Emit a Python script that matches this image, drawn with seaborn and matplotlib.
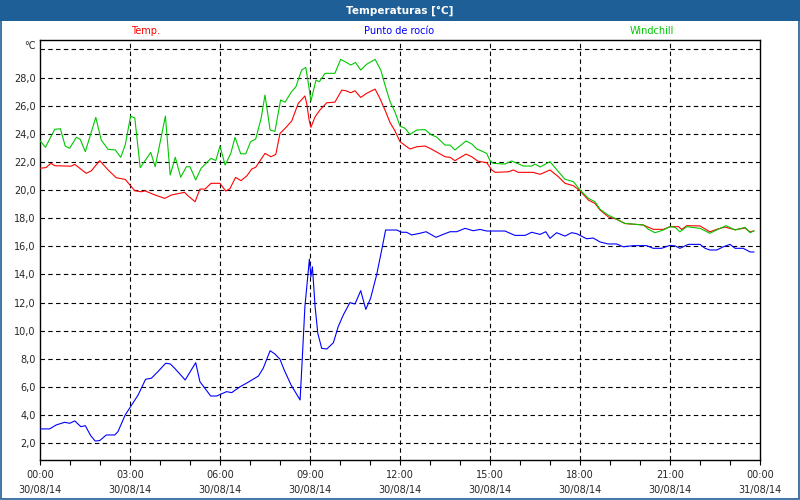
import matplotlib
matplotlib.use("Agg")
import matplotlib.pyplot as plt
from matplotlib.patches import Rectangle
from matplotlib.transforms import offset_copy
import seaborn as sns
import pandas as pd

# ---------------- data (hours since 30/08/14 00:00) ----------------
temp_h = [0.0, 0.2, 0.36, 0.5, 1.04, 1.16, 1.54, 1.71, 1.99, 2.27, 2.54, 2.84, 3.16, 3.38, 3.5, 3.77,
          4.16, 4.38, 4.82, 4.93, 5.17, 5.33, 5.5, 5.7, 6.0, 6.19, 6.33, 6.52, 6.7, 6.89, 7.06, 7.19,
          7.5, 7.7, 7.86, 8.0, 8.17, 8.39, 8.61, 8.83, 8.89, 8.97, 9.03, 9.17, 9.33, 9.56, 9.83, 10.06,
          10.2, 10.36, 10.5, 10.69, 10.89, 11.17, 11.33, 11.5, 11.67, 11.83, 12.0, 12.33, 12.56, 12.83,
          13.0, 13.5, 13.67, 13.83, 14.2, 14.39, 14.6, 14.89, 15.06, 15.17, 15.61, 15.78, 15.94, 16.44,
          16.67, 17.0, 17.28, 17.5, 17.78, 18.0, 18.28, 18.5, 18.67, 18.94, 19.22, 19.5, 20.11, 20.44,
          20.78, 21.0, 21.28, 21.39, 21.56, 22.0, 22.33, 22.56, 22.83, 23.17, 23.5, 23.67, 23.8]
temp_v = [21.55, 21.6, 21.9, 21.73, 21.7, 21.83, 21.19, 21.37, 22.09, 21.43, 20.88, 20.76, 19.95, 19.88, 19.95, 19.7,
          19.41, 19.65, 19.84, 19.6, 19.17, 20.07, 20.07, 20.48, 20.48, 19.93, 20.1, 20.9, 20.67, 21.0, 21.5, 21.62,
          22.61, 22.37, 22.54, 24.03, 24.39, 24.91, 26.17, 26.69, 26.17, 24.98, 24.46, 25.21, 25.69, 26.21, 26.25, 27.11,
          27.06, 26.92, 27.06, 26.59, 26.88, 27.18, 26.52, 25.69, 24.79, 24.22, 23.44, 22.92, 23.08, 23.13,
          22.97, 22.37, 22.33, 22.09, 22.56, 22.37, 22.05, 21.95, 21.43, 21.26, 21.3, 21.43, 21.26, 21.26,
          21.12, 21.43, 20.95, 20.48, 20.31, 19.95, 19.29, 19.05, 18.58, 18.1, 17.92, 17.62, 17.52, 17.21,
          17.21, 17.4, 17.4, 17.2, 17.47, 17.45, 17.03, 17.21, 17.37, 17.18, 17.3, 17.03, 17.1]

wind_h = [0.0, 0.18, 0.49, 0.68, 0.84, 0.99, 1.21, 1.34, 1.51, 1.86, 2.04, 2.27, 2.51, 2.69, 2.84, 3.02,
          3.16, 3.34, 3.69, 3.84, 4.18, 4.34, 4.51, 4.69, 4.88, 5.0, 5.19, 5.37, 5.7, 5.86, 6.0, 6.17,
          6.36, 6.5, 6.69, 6.86, 7.02, 7.19, 7.37, 7.5, 7.67, 7.83, 8.02, 8.17, 8.37, 8.53, 8.72, 8.86,
          8.97, 9.03, 9.2, 9.31, 9.5, 9.83, 10.02, 10.17, 10.36, 10.52, 10.69, 10.89, 11.17, 11.36, 11.5,
          11.67, 11.83, 12.0, 12.17, 12.33, 12.56, 12.83, 13.06, 13.22, 13.5, 13.67, 13.83, 14.2, 14.39,
          14.56, 14.72, 14.89, 15.0, 15.11, 15.5, 15.72, 16.11, 16.39, 16.5, 16.67, 17.0, 17.28, 17.5,
          17.78, 18.0, 18.28, 18.5, 18.67, 18.94, 19.22, 19.5, 20.11, 20.28, 20.5, 20.78, 21.0, 21.17,
          21.33, 21.56, 22.0, 22.33, 22.67, 22.87, 23.17, 23.5, 23.67, 23.8]
wind_v = [23.51, 23.04, 24.32, 24.36, 23.13, 22.97, 23.75, 23.61, 22.73, 25.17, 23.56, 22.9, 22.85, 22.33, 23.2, 25.26,
          25.12, 21.59, 22.68, 21.66, 25.26, 21.07, 22.33, 20.91, 21.66, 21.66, 20.72, 21.55, 22.26, 22.1, 23.13, 21.78,
          22.61, 23.75, 22.58, 22.58, 23.44, 23.63, 25.1, 26.76, 24.27, 24.17, 26.4, 26.25, 26.95, 27.35, 28.53, 28.72,
          27.23, 26.33, 27.82, 27.7, 28.3, 28.3, 29.29, 29.13, 28.89, 29.07, 28.53, 28.95, 29.29, 28.53, 27.47,
          26.28, 25.57, 24.55, 24.39, 23.96, 24.27, 24.3, 23.91, 23.77, 23.2, 23.2, 22.85, 23.49, 23.28,
          22.92, 22.78, 22.6, 22.09, 21.9, 21.85, 22.07, 21.71, 21.71, 21.85, 21.64, 22.02, 21.31, 20.77,
          20.6, 20.01, 19.41, 19.17, 18.63, 18.22, 17.94, 17.63, 17.52, 17.21, 16.97, 17.16, 17.4, 17.35,
          17.03, 17.4, 17.28, 16.93, 17.28, 17.47, 17.16, 17.35, 16.97, 17.1]

dew_h = [0.0, 0.32, 0.54, 0.82, 0.99, 1.16, 1.36, 1.51, 1.69, 1.84, 1.99, 2.21, 2.49, 2.6, 2.84, 3.27,
         3.52, 3.71, 3.93, 4.19, 4.34, 4.49, 4.84, 5.19, 5.33, 5.69, 5.89, 6.22, 6.39, 6.67, 6.94, 7.28,
         7.44, 7.67, 7.83, 8.0, 8.14, 8.37, 8.67, 8.74, 8.83, 8.98, 9.03, 9.08, 9.17, 9.26, 9.39, 9.56,
         9.78, 9.94, 10.11, 10.33, 10.5, 10.69, 10.86, 11.02, 11.22, 11.39, 11.52, 11.89, 12.06, 12.22,
         12.39, 12.67, 12.87, 13.2, 13.39, 13.67, 13.89, 14.17, 14.44, 14.67, 14.89, 15.5, 15.67, 15.83,
         16.17, 16.39, 16.67, 16.86, 17.0, 17.22, 17.5, 17.72, 17.89, 18.22, 18.44, 18.67, 18.94, 19.22,
         19.44, 19.78, 20.22, 20.44, 20.72, 21.0, 21.17, 21.33, 21.61, 22.0, 22.17, 22.33, 22.56, 22.78,
         23.0, 23.17, 23.44, 23.67, 23.8]
dew_v = [3.02, 3.02, 3.3, 3.49, 3.42, 3.59, 3.18, 3.25, 2.54, 2.16, 2.19, 2.59, 2.59, 2.83, 4.01, 5.43,
         6.55, 6.62, 7.09, 7.69, 7.64, 7.33, 6.5, 7.73, 6.38, 5.36, 5.36, 5.67, 5.6, 6.02, 6.34, 6.78,
         7.33, 8.58, 8.35, 7.97, 7.21, 6.14, 5.08, 7.92, 11.71, 15.1, 13.84, 14.55, 11.71, 9.82, 8.75, 8.7,
         9.15, 10.29, 11.12, 12.0, 11.9, 12.85, 11.52, 12.31, 13.96, 15.74, 17.16, 17.16, 17.0, 17.0,
         16.81, 16.93, 17.04, 16.64, 16.81, 17.04, 17.04, 17.28, 17.11, 17.2, 17.09, 17.09, 16.93, 16.78,
         16.78, 17.0, 16.85, 17.04, 16.57, 16.97, 16.73, 16.97, 16.9, 16.54, 16.59, 16.31, 16.17, 16.17,
         15.97, 16.05, 16.05, 15.86, 15.86, 16.07, 16.03, 15.86, 16.14, 16.14, 15.86, 15.74, 15.74, 15.97,
         16.14, 15.86, 15.86, 15.6, 15.6]

series_names = ["Temp.", "Punto de rocío", "Windchill"]
series_colors = ["#ff0000", "#0000ff", "#00c800"]
x_ticks = [0, 3, 6, 9, 12, 15, 18, 21, 24]
x_tick_labels = ["00:00\n30/08/14", "03:00\n30/08/14", "06:00\n30/08/14", "09:00\n30/08/14",
                 "12:00\n30/08/14", "15:00\n30/08/14", "18:00\n30/08/14", "21:00\n30/08/14",
                 "00:00\n31/08/14"]
y_ticks = [2, 4, 6, 8, 10, 12, 14, 16, 18, 20, 22, 24, 26, 28, 30]
y_tick_labels = ["2,0", "4,0", "6,0", "8,0", "10,0", "12,0", "14,0", "16,0", "18,0", "20,0",
                 "22,0", "24,0", "26,0", "28,0", ""]
unit_label = "°C"
title = "Temperaturas [°C]"

# ---------------- figure ----------------
sns.set_style("white")
plt.rcParams["font.family"] = ["DejaVu Sans"]

W, H = 800, 500
fig = plt.figure(figsize=(8, 5), dpi=100, facecolor="white")
ax = fig.add_axes([40 / W, 1 - 460 / H, 720 / W, 420 / H])
ax.set_facecolor("white")

bar_col = "#1f5f97"
fig.patches.append(Rectangle((0, 1 - 21 / H), 1, 21 / H, transform=fig.transFigure,
                             facecolor=bar_col, edgecolor="none", zorder=0))
fig.patches.append(Rectangle((0.6 / W, 0.6 / H), 1 - 1.2 / W, 1 - 1.2 / H, transform=fig.transFigure,
                             facecolor="none", edgecolor=bar_col, linewidth=1.2, zorder=5))
fig.text(0.5, 1 - 10.5 / H, title, color="white", fontsize=7.5, fontweight="bold",
         ha="center", va="center")

df_t = pd.DataFrame({"h": temp_h, "v": temp_v})
df_d = pd.DataFrame({"h": dew_h, "v": dew_v})
df_w = pd.DataFrame({"h": wind_h, "v": wind_v})
for df, col in zip([df_t, df_d, df_w], series_colors):
    sns.lineplot(data=df, x="h", y="v", ax=ax, color=col, linewidth=0.8, estimator=None,
                 zorder=3)

ax.set_xlim(0, 24)
ax.set_ylim(0.81, 30.67)
ax.set_xlabel("")
ax.set_ylabel("")

ax.set_xticks(x_ticks)
ax.set_xticklabels(x_tick_labels, fontsize=7, linespacing=1.6)
ax.set_xticks(range(0, 25), minor=True)
ax.tick_params(axis="x", which="both", direction="out", length=3.5, width=0.8,
               color="black", pad=3.5, bottom=True)
ax.set_yticks(y_ticks)
ax.set_yticklabels(y_tick_labels, fontsize=7)
ax.tick_params(axis="y", length=0, pad=3, left=True)

# unit label sits just above the top (30) gridline, at the tick-label column
unit_tr = offset_copy(ax.get_yaxis_transform(), fig=fig, x=-4, y=0, units="dots")
ax.text(0, 30.25, unit_label, transform=unit_tr, fontsize=7, ha="right", va="center")

grid_kw = dict(color="black", linewidth=0.8, linestyle=(0, (4, 3)), zorder=1)
for yv in y_ticks:
    ax.axhline(yv, **grid_kw)
for xv in x_ticks[1:-1]:
    ax.axvline(xv, **grid_kw)

for s in ax.spines.values():
    s.set_visible(True)
    s.set_color("black")
    s.set_linewidth(1.0)

label_x = [146, 399, 652]
for name, col, lx in zip(series_names, series_colors, label_x):
    fig.text(lx / W, 1 - 31 / H, name, color=col, fontsize=7, ha="center", va="center")

fig.savefig("out.png", dpi=100, facecolor="white")
